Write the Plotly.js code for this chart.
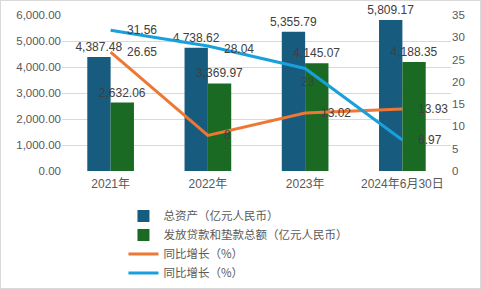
<!DOCTYPE html>
<html><head><meta charset="utf-8">
<script src="https://cdn.plot.ly/plotly-3.0.1.min.js"></script>
<style>
html,body{margin:0;padding:0;background:#fff;}
#wrap{position:relative;width:481px;height:289px;}
#chart{width:481px;height:289px;}
#frame{position:absolute;left:0;top:0;width:479px;height:287px;border:1px solid #d9d9d9;pointer-events:none;}
</style></head>
<body>
<div id="wrap"><div id="chart"></div><div id="frame"></div></div>
<script>
const categories = ['2021年', '2022年', '2023年', '2024年6月30日'];
const totalAssets = [4387.48, 4738.62, 5355.79, 5809.17];
const loans = [2632.06, 3369.97, 4145.07, 4188.35];
const assetGrowth = [26.65, 8.00, 13.02, 13.93];
const loanGrowth = [31.56, 28.04, 23.00, 6.97];
const assetGrowthLabels = ['26.65', '8', '13.02', '13.93'];
const loanGrowthLabels = ['31.56', '28.04', '23', '6.97'];
const seriesNames = ['总资产（亿元人民币）', '发放贷款和垫款总额（亿元人民币）', '同比增长（%）', '同比增长（%）'];

const FONT = 'Liberation Sans, Arial, Noto Sans CJK SC, sans-serif';
const C_BLUE = '#175b7f', C_GREEN = '#1b6a24', C_ORANGE = '#ee7733', C_LBLUE = '#19a0da';

const traces = [
  {type:'bar', name:seriesNames[0], x:categories, y:totalAssets, marker:{color:C_BLUE},
   texttemplate:'%{y:,.2f}', textposition:'outside', constraintext:'none', cliponaxis:false,
   textfont:{size:12, color:'#404040', family:FONT}},
  {type:'bar', name:seriesNames[1], x:categories, y:loans, marker:{color:C_GREEN},
   texttemplate:'%{y:,.2f}', textposition:'outside', constraintext:'none', cliponaxis:false,
   textfont:{size:12, color:'#404040', family:FONT}},
  {type:'scatter', mode:'lines', name:seriesNames[2], x:categories, y:assetGrowth, yaxis:'y2',
   line:{color:C_ORANGE, width:3}, cliponaxis:false},
  {type:'scatter', mode:'lines', name:seriesNames[3], x:categories, y:loanGrowth, yaxis:'y2',
   line:{color:C_LBLUE, width:3}, cliponaxis:false}
];

const annotations = [];
function addLabels(vals, labels, special){
  vals.forEach((v,i)=>{
    const sp = special && special[i];
    annotations.push({x:categories[i], y:v, xref:'x', yref:'y2', text:labels[i], showarrow:false,
      xanchor: sp ? 'center' : 'left', yanchor:'middle',
      xshift: sp ? 3 : 14, yshift: sp ? -14 : (i===1 && vals===loanGrowth ? -3 : 0),
      font:{size:12, color:'#404040', family:FONT}});
  });
}
addLabels(assetGrowth, assetGrowthLabels, null);
addLabels(loanGrowth, loanGrowthLabels, [false,false,true,false]);

const layout = {
  width:481, height:289,
  margin:{l:62, r:30, t:15, b:118, autoexpand:false},
  paper_bgcolor:'#fff', plot_bgcolor:'#fff',
  font:{family:FONT, color:'#595959', size:11},
  barmode:'group', bargap:0.52, bargroupgap:0,
  showlegend:true,
  legend:{x:0.158, y:-0.195, xanchor:'left', yanchor:'top', orientation:'v',
    font:{size:11.5, color:'#595959', family:'Noto Sans CJK SC, sans-serif'},
    tracegroupgap:0, itemwidth:30, bgcolor:'rgba(0,0,0,0)'},
  xaxis:{type:'category', showgrid:false, showline:false, zeroline:false, ticks:'',
    ticklabelstandoff:4,
    tickfont:{size:12, color:'#595959', family:FONT}, fixedrange:true},
  yaxis:{range:[0,6000], dtick:1000, tickformat:',.2f', gridcolor:'#d9d9d9', gridwidth:1,
    zeroline:false, showline:false, ticks:'', tickfont:{size:11.5, color:'#595959', family:FONT}},
  yaxis2:{range:[0,35], dtick:5, overlaying:'y', side:'right', showgrid:false, zeroline:false,
    showline:false, ticks:'', tickfont:{size:11.5, color:'#595959', family:FONT}},
  annotations:annotations
};

Plotly.newPlot('chart', traces, layout, {displayModeBar:false, staticPlot:true});
</script>
</body></html>
